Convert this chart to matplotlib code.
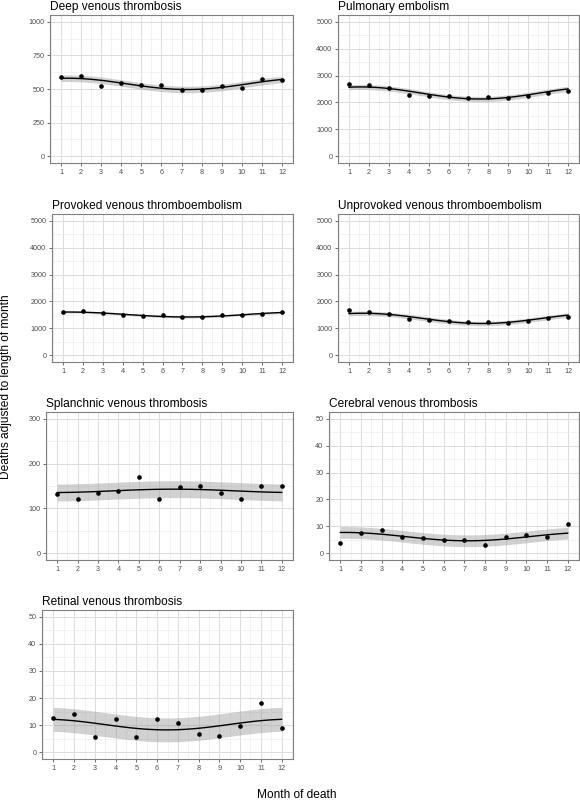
import numpy as np
import matplotlib
matplotlib.use("Agg")
import matplotlib.pyplot as plt

plt.rcParams['font.family'] = ['Liberation Sans', 'DejaVu Sans']

months = np.arange(1, 13)

titles = [
    "Deep venous thrombosis",
    "Pulmonary embolism",
    "Provoked venous thromboembolism",
    "Unprovoked venous thromboembolism",
    "Splanchnic venous thrombosis",
    "Cerebral venous thrombosis",
    "Retinal venous thrombosis",
]

# deaths adjusted to length of month
dvt = [588, 598, 521, 548, 529, 529, 489, 489, 519, 509, 573, 566]
pe = [2673, 2661, 2550, 2277, 2240, 2252, 2178, 2203, 2178, 2240, 2351, 2426]
provoked = [1593, 1654, 1556, 1494, 1457, 1494, 1407, 1420, 1494, 1481, 1543, 1593]
unprovoked = [1679, 1605, 1519, 1333, 1321, 1259, 1247, 1247, 1185, 1272, 1383, 1407]
splanchnic = [133, 120, 134, 138, 171, 120, 147, 149, 134, 122, 151, 151]
cerebral = [3.9, 7.5, 8.7, 6.0, 5.8, 5.0, 4.9, 3.0, 6.0, 6.8, 6.0, 10.7]
retinal = [12.7, 14.0, 5.8, 12.1, 5.8, 12.1, 10.7, 6.8, 6.0, 9.8, 18.1, 8.8]

series = [dvt, pe, provoked, unprovoked, splanchnic, cerebral, retinal]
y_max = [1000, 5000, 5000, 5000, 300, 50, 50]
y_step = [250, 1000, 1000, 1000, 100, 10, 10]

# panel boxes in pixels: left, right, top, bottom
W, H = 580, 800
boxes = [
    (50, 293, 15, 163),
    (338, 579, 15, 163),
    (52, 293, 214, 362),
    (338, 579, 214, 362),
    (46, 293, 412, 560),
    (329, 579, 412, 560),
    (42, 293, 610, 759),
]


def cosinor_fit(x, y, grid):
    # linear model y ~ cos + sin, 95% t interval (df = n - 3)
    X = np.column_stack([np.ones_like(x, dtype=float),
                         np.cos(2 * np.pi * x / 12), np.sin(2 * np.pi * x / 12)])
    beta, *_ = np.linalg.lstsq(X, y, rcond=None)
    resid = y - X @ beta
    s2 = (resid ** 2).sum() / (len(y) - 3)
    XtXi = np.linalg.inv(X.T @ X)
    G = np.column_stack([np.ones_like(grid), np.cos(2 * np.pi * grid / 12), np.sin(2 * np.pi * grid / 12)])
    fit = G @ beta
    se = np.sqrt(s2 * np.einsum('ij,jk,ik->i', G, XtXi, G))
    return fit, 2.262 * se


fig = plt.figure(figsize=(W / 100, H / 100), dpi=100)

for title, vals, ym, st, (l, r, t, b) in zip(titles, series, y_max, y_step, boxes):
    ax = fig.add_axes([l / W, 1 - b / H, (r - l) / W, (b - t) / H])
    y = np.asarray(vals, dtype=float)
    grid = np.linspace(1, 12, 80)
    fit, half = cosinor_fit(months.astype(float), y, grid)
    ax.fill_between(grid, fit - half, fit + half, color='#999999', alpha=0.45, lw=0, zorder=2)
    ax.plot(grid, fit, color='black', lw=1.0, zorder=3)
    ax.scatter(months, y, s=11, color='black', zorder=4, linewidths=0)

    ax.set_xlim(0.45, 12.55)
    ax.set_ylim(-0.05 * ym, 1.05 * ym)
    ax.set_xticks(months)
    ax.set_yticks(np.arange(0, ym + st / 2, st))
    ax.set_xticks(np.arange(0.5, 12.6, 1), minor=True)
    ax.set_yticks(np.arange(st / 2, ym, st), minor=True)
    ax.grid(which='major', color='#dddddd', lw=0.75, zorder=0)
    ax.grid(which='minor', color='#ededed', lw=0.5, zorder=0)
    ax.set_axisbelow(True)
    ax.tick_params(which='major', length=2.5, width=0.6, color='#555555',
                   labelsize=5.2, labelcolor='#4d4d4d', pad=1.5)
    ax.tick_params(which='minor', length=0)
    for sp in ax.spines.values():
        sp.set_color('#808080')
        sp.set_linewidth(0.8)
    ax.text(0, 1 + 5 / (b - t), title, transform=ax.transAxes, ha='left', va='baseline',
            fontsize=8.6, color='black')

fig.text(6 / W, 1 - 387 / H, "Deaths adjusted to length of month", rotation=90,
         ha='center', va='center', fontsize=8.6)
fig.text(297 / W, 1 - 795 / H, "Month of death", ha='center', va='center', fontsize=8.6)

fig.savefig("out.png", dpi=100)
